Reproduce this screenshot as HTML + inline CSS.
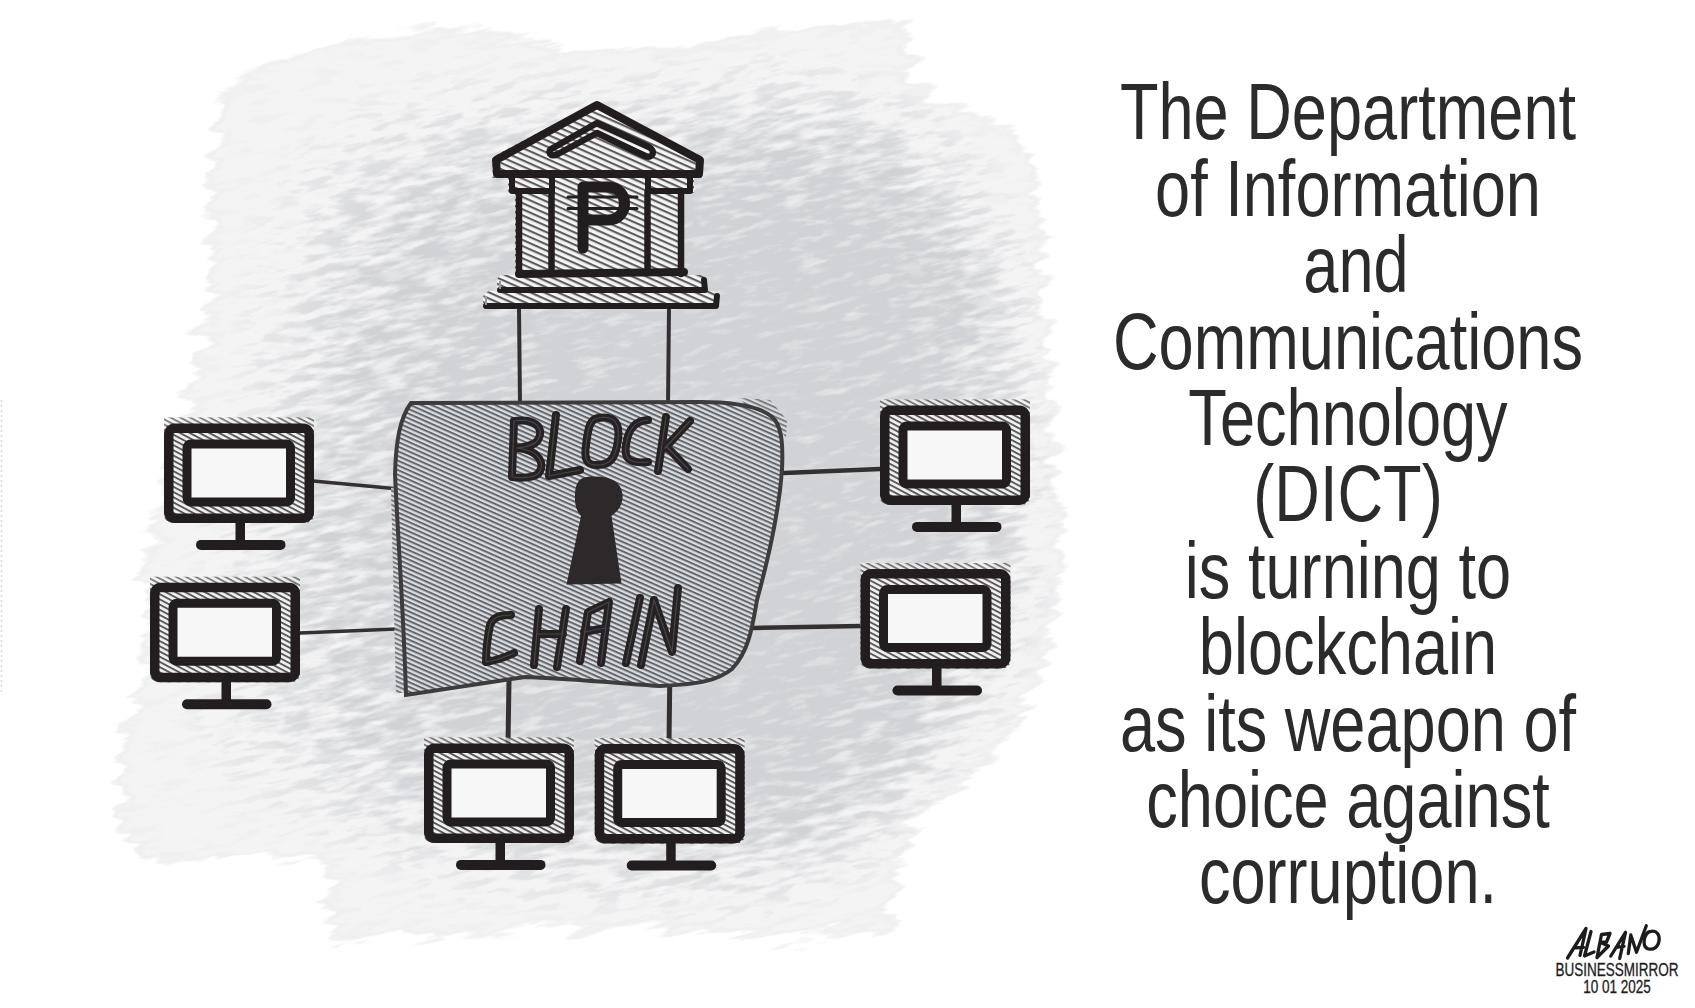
<!DOCTYPE html>
<html><head><meta charset="utf-8"><title>Cartoon</title>
<style>
html,body{margin:0;padding:0;background:#fff;}
body{width:1695px;height:1008px;overflow:hidden;position:relative;}
svg.art{position:absolute;left:0;top:0;}
.ln{position:absolute;left:1347.5px;width:0;height:76px;line-height:76px;white-space:nowrap;font-family:"Liberation Sans",sans-serif;font-size:79px;color:#2b2b2b;}
.ln span{position:absolute;left:0;top:0;transform:scaleX(0.799) translateX(-50%);transform-origin:0 0;}
.sg{position:absolute;left:1617px;width:0;height:18px;line-height:18px;white-space:nowrap;font-family:"Liberation Sans",sans-serif;font-size:17.5px;color:#1e1b1c;-webkit-text-stroke:0.3px #1e1b1c;}
.sg span{position:absolute;left:0;top:0;transform:scaleX(0.772) translateX(-50%);transform-origin:0 0;}
</style></head><body>
<svg class="art" width="1695" height="1008" viewBox="0 0 1695 1008">
<defs>
  <pattern id="hb" patternUnits="userSpaceOnUse" width="10" height="4.3" patternTransform="rotate(24)">
    <rect width="10" height="4.3" fill="#dcdde0"/><rect y="0" width="10" height="2.0" fill="#63666b"/>
  </pattern>
  <pattern id="hk" patternUnits="userSpaceOnUse" width="10" height="5.6" patternTransform="rotate(24)">
    <rect width="10" height="5.6" fill="#f4f4f4"/><rect y="0" width="10" height="2.1" fill="#5c5c5e"/>
  </pattern>
  <pattern id="hm" patternUnits="userSpaceOnUse" width="10" height="4.6" patternTransform="rotate(28)">
    <rect width="10" height="4.6" fill="#f2f2f2"/><rect y="0" width="10" height="1.9" fill="#5a5a5c"/>
  </pattern>
  <filter id="tex" x="-15%" y="-15%" width="130%" height="130%" color-interpolation-filters="sRGB">
    <feTurbulence type="fractalNoise" baseFrequency="0.012 0.07" numOctaves="4" seed="11" result="n"/>
    <feTurbulence type="fractalNoise" baseFrequency="0.03 0.13" numOctaves="4" seed="5" result="n2"/>
    <feGaussianBlur in="SourceAlpha" stdDeviation="8" result="sb"/>
    <feGaussianBlur in="SourceAlpha" stdDeviation="100" result="sb2"/>
    <feColorMatrix in="SourceGraphic" type="matrix" values="0 0 0 0 0  0 0 0 0 0  0 0 0 0 0  1 0 0 0 0" result="ga"/>
    <feComposite in="sb2" in2="ga" operator="arithmetic" k1="1" k2="0" k3="0" k4="0" result="inter"/>
    <feDisplacementMap in="sb" in2="n" scale="40" xChannelSelector="R" yChannelSelector="G" result="sd"/>
    <feComposite in="sd" in2="n2" operator="arithmetic" k1="0" k2="2.0" k3="1.4" k4="-1.6" result="mask"/>
    <feFlood flood-color="#d1d2d5" result="g"/>
    <feComposite in="g" in2="mask" operator="in" result="base"/>
    <feColorMatrix in="n2" type="matrix" values="0 0 0 0 1  0 0 0 0 1  0 0 0 0 1  2.6 0 0 0 -0.9" result="w"/>
    <feComposite in="w" in2="inter" operator="arithmetic" k1="0" k2="1" k3="-3.0" k4="2.25" result="we"/>
    <feFlood flood-color="#ffffff" flood-opacity="0.75" result="wh"/>
    <feComposite in="wh" in2="we" operator="in" result="w1"/>
    <feComposite in="w1" in2="mask" operator="in" result="wc"/>
    <feMerge><feMergeNode in="base"/><feMergeNode in="wc"/></feMerge>
  </filter>
  <radialGradient id="ig" gradientUnits="userSpaceOnUse" cx="880" cy="520" r="650">
    <stop offset="0" stop-color="rgb(255,0,0)"/><stop offset="0.4" stop-color="rgb(255,0,0)"/><stop offset="1" stop-color="rgb(178,0,0)"/>
  </radialGradient>
  <g id="mon">
    <rect x="0" y="-6" width="150" height="12" fill="url(#hm)" opacity="0.75"/>
    <rect x="0" y="0" width="150" height="99.5" rx="8" fill="url(#hm)"/>
    <rect x="4.75" y="4.75" width="140.5" height="90" rx="6" fill="none" stroke="#221e1f" stroke-width="9.5"/>
    <rect x="23" y="20.5" width="103.5" height="58" rx="4" fill="#f7f7f7" stroke="#221e1f" stroke-width="9"/>
    <rect x="71.5" y="95" width="9.5" height="24" fill="#221e1f"/>
    <rect x="32" y="116.5" width="89.5" height="10" rx="5" fill="#221e1f"/>
  </g>
</defs>

<!-- gray textured blob -->
<g filter="url(#tex)" transform="rotate(-12 600 480)"><g transform="rotate(12 600 480)">
<polygon fill="url(#ig)" points="217,92 262,68 339,40 419,30 499,30 552,40 621,50 711,40 791,24 844,20 911,24 915,88 980,112 1025,138 1040,190 1044,234 1047,322 1050,365 1056,453 1062,496 1063,546 1055,614 1042,683 1008,745 958,790 921,818 904,856 894,911 885,938 841,932 721,944 641,926 440,938 326,942 326,860 140,860 122,836 116,754 137,696 150,553 170,445 182,413 198,350 206,300 210,198"/>
</g></g>

<!-- connector lines -->
<g stroke="#333031" fill="none" stroke-linecap="round">
  <path d="M519,308 L520,405" stroke-width="4"/>
  <path d="M669,308 L668,405" stroke-width="4"/>
  <path d="M313,481 L410,490" stroke-width="3.5"/>
  <path d="M300,633 L420,628" stroke-width="3.5"/>
  <path d="M784,473 L880,469" stroke-width="4.5"/>
  <path d="M753,628 L861,626" stroke-width="4.5"/>
  <path d="M509,681 L508,743" stroke-width="5"/>
  <path d="M670,660 L669,744" stroke-width="5"/>
</g>

<!-- bank -->
<g id="bank">
  <path d="M492.5,157 L596.4,101.4 L702.4,158 L702.4,178 L492.5,178 Z" fill="url(#hk)"/>
  <rect x="508" y="177" width="186" height="16" fill="url(#hk)"/>
  <rect x="515" y="192" width="169" height="84" fill="url(#hk)"/>
  <rect x="497" y="275" width="209" height="17" rx="6" fill="url(#hk)"/>
  <rect x="483" y="291" width="236" height="18" rx="8" fill="url(#hk)"/>
  <g fill="none" stroke="#221e1f" stroke-linejoin="round" stroke-linecap="round">
    <path d="M597,105 L496,160 L497,174 L699,174 L700,160 Z" stroke-width="8"/>
    <path d="M553,148 L597,123 L649,147 C656,151 653,159 645,156 L597,133 L558,154 C550,158 546,151 553,148 Z" stroke-width="6.5" fill="url(#hk)"/>
    <path d="M512,178 L512,191 L552,191 L552,178 M690,178 L690,191 L648,191 L648,178" stroke-width="6"/>
    <path d="M519,192 L519,274 M551.5,192 L551.5,272 M647.5,192 L647.5,272 M681,192 L681,274" stroke-width="6.5"/>
    <path d="M519,274 L684,272" stroke-width="8"/>
    <path d="M500,290 L705,290 L704,280" stroke-width="6"/>
    <path d="M486,306 L716,306 L717,296" stroke-width="6"/>
    <path d="M583,187 L583,248 M583,187 L608,187 C630,187 630,220 608,220 L583,220" stroke-width="11"/>
    <path d="M568,197 L637,197 M568,208.5 L637,208.5" stroke-width="3"/>
  </g>
  <path d="M500,281 L500,289 M486,296 L486,305" stroke="#9a9a9a" stroke-width="2" fill="none"/>
</g>

<!-- block -->
<path d="M391,488 L399,486 L405,692 L396,694 Z" fill="url(#hb)" opacity="0.85"/>
<path d="M740,398 L770,400 L787,420 L786,438 L772,418 L745,405 Z" fill="url(#hb)" opacity="0.8"/>
<path d="M411,403 L700,402 C740,402 765,408 775,420 C782,430 783,445 782,470 C779,510 768,560 757,600 C752,630 748,652 732,669 C718,680 702,684 660,686 C630,684 560,678 525,677 L406,695 C404,620 398,540 395,474 C396,440 400,418 411,403 Z" fill="url(#hb)" stroke="#3d3b3c" stroke-width="4"/>
<g fill="none" stroke="#262223" stroke-width="8" stroke-linecap="round" stroke-linejoin="round">
  <!-- BLOCK -->
  <path d="M514,421 L512,477 M514,421 C535,418 545,428 538,440 C534,446 524,447 517,448 C540,450 546,465 538,474 C532,478 520,478 512,477"/>
  <path d="M556,415 L549,476 L580,470"/>
  <path d="M598,418 C616,415 620,425 618,440 C616,455 612,465 598,465 C586,466 584,458 586,445 C588,428 590,419 598,418 Z"/>
  <path d="M648,420 C634,421 628,430 626,445 C624,458 628,464 648,462"/>
  <path d="M666,417 L658,471 M665,448 L690,421 M667,447 L688,469"/>
  <!-- CHAIN -->
  <path d="M511,615 C500,615 493,617 490,625 C487,640 486,652 486,662 C500,660 508,656 514,653"/>
  <path d="M539,609 L534,665 M566,609 L557,667 M537,634 L563,634"/>
  <path d="M580,661 L588,612 L609,602 L601,663 M584,632 L605,628"/>
  <path d="M640,598 L626,663"/>
  <path d="M654,600 L641,665 M654,600 L672,652 L678,588"/>
</g>
<g fill="none" stroke="#4a4647" stroke-width="1.2" stroke-linecap="round" stroke-linejoin="round">
  <!-- BLOCK -->
  <path d="M514,421 L512,477 M514,421 C535,418 545,428 538,440 C534,446 524,447 517,448 C540,450 546,465 538,474 C532,478 520,478 512,477"/>
  <path d="M556,415 L549,476 L580,470"/>
  <path d="M598,418 C616,415 620,425 618,440 C616,455 612,465 598,465 C586,466 584,458 586,445 C588,428 590,419 598,418 Z"/>
  <path d="M648,420 C634,421 628,430 626,445 C624,458 628,464 648,462"/>
  <path d="M666,417 L658,471 M665,448 L690,421 M667,447 L688,469"/>
  <!-- CHAIN -->
  <path d="M511,615 C500,615 493,617 490,625 C487,640 486,652 486,662 C500,660 508,656 514,653"/>
  <path d="M539,609 L534,665 M566,609 L557,667 M537,634 L563,634"/>
  <path d="M580,661 L588,612 L609,602 L601,663 M584,632 L605,628"/>
  <path d="M640,598 L626,663"/>
  <path d="M654,600 L641,665 M654,600 L672,652 L678,588"/>
</g>
<path d="M590,476.5 C610,475.5 621,481 622.5,494 C623.5,505 618,511 611.5,516 L621.5,583.5 L566.5,584.5 L581,516 C576,511 574.5,503 575,494 C575.5,482 580,477 590,476.5 Z" fill="#2d292a"/>

<!-- monitors -->
<use href="#mon" x="164" y="423.4"/>
<use href="#mon" x="150" y="582.7"/>
<use href="#mon" x="880" y="405.4"/>
<use href="#mon" x="860.5" y="569"/>
<use href="#mon" x="424" y="743.4"/>
<use href="#mon" x="594.7" y="744"/>
<!-- signature -->
<g fill="none" stroke="#1e1b1c" stroke-width="3.3" stroke-linecap="round" stroke-linejoin="round">
  <path d="M1567.5,958 L1586,928.5 L1580,955.5 M1575.5,947.8 L1583.5,947.3"/>
  <path d="M1591,931.5 L1584.5,956 L1594,952"/>
  <path d="M1597,957.5 L1601.5,934.5 L1610,933.5 L1606.5,942 L1600,942.5 M1600.5,942.5 L1608.5,946 L1599,955.5 L1597,957.5"/>
  <path d="M1610.8,956 L1625.5,932.3 L1619.7,958.5 M1616,947.4 L1624,946.3"/>
  <path d="M1628.3,953.5 L1630.8,935 L1636.5,952.3 L1646.3,925.8"/>
  <path d="M1650.5,931.5 C1656.5,930 1660,934.5 1659,941 C1658,947 1654,950 1648.5,949 C1644,948 1643.5,943 1644.5,938.5 C1645.5,934.5 1647.5,932 1650.5,931.5 Z"/>
</g>
<path d="M1.5,400 L1.5,695" stroke="#d8d8d8" stroke-width="1.5" stroke-dasharray="2 3"/>
</svg>

<div class="ln" style="top:74.4px"><span>The Department</span></div>
<div class="ln" style="top:150.8px"><span>of Information</span></div>
<div class="ln" style="top:227.2px;left:1355.5px"><span>and</span></div>
<div class="ln" style="top:303.6px"><span>Communications</span></div>
<div class="ln" style="top:380.0px"><span>Technology</span></div>
<div class="ln" style="top:456.4px"><span>(DICT)</span></div>
<div class="ln" style="top:532.8px"><span>is turning to</span></div>
<div class="ln" style="top:609.2px"><span>blockchain</span></div>
<div class="ln" style="top:685.6px"><span>as its weapon of</span></div>
<div class="ln" style="top:762.0px"><span>choice against</span></div>
<div class="ln" style="top:838.4px"><span>corruption.</span></div>

<div class="sg" style="top:960.5px"><span>BUSINESSMIRROR</span></div>
<div class="sg" style="top:978.3px"><span>10 01 2025</span></div>
</body></html>
